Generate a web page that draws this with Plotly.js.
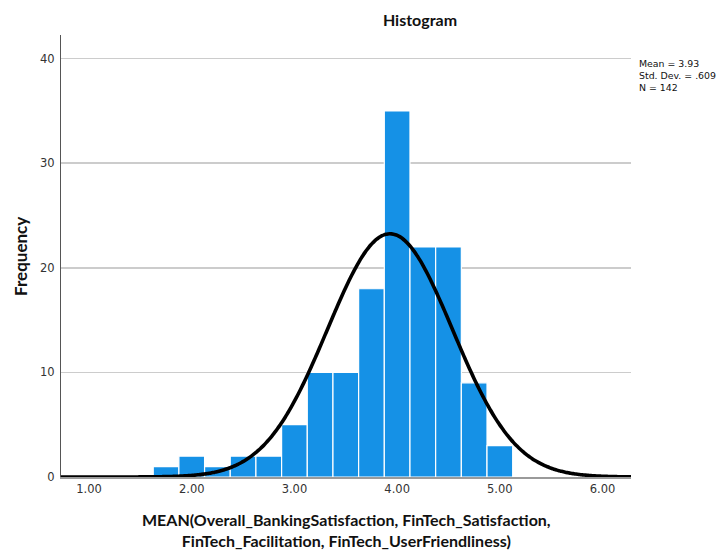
<!DOCTYPE html>
<html>
<head>
<meta charset="utf-8">
<script src="https://cdn.plot.ly/plotly-3.0.1.min.js"></script>
<style>
  html, body { margin: 0; padding: 0; background: #fff; }
  #chart { width: 722px; height: 552px; }
</style>
</head>
<body>
<div id="chart"></div>
<script>
// Bin centres (score means are multiples of 0.25) and their frequencies
const binCenters = [1.75, 2.00, 2.25, 2.50, 2.75, 3.00, 3.25, 3.50, 3.75, 4.00, 4.25, 4.50, 4.75, 5.00];
const frequencies = [1, 2, 1, 2, 2, 5, 10, 10, 18, 35, 22, 22, 9, 3];
const binWidth = 0.25;

// Descriptive statistics shown beside the plot
const statMean = 3.93;
const statSd = 0.609;
const statN = 142;

// Axis ticks
const xTickVals = [1, 2, 3, 4, 5, 6];
const xTickText = ['1.00', '2.00', '3.00', '4.00', '5.00', '6.00'];
const yTickVals = [0, 10, 20, 30, 40];

const xRange = [0.727, 6.277];
const yRange = [0, 42.26];

// Normal curve scaled to the histogram (N * bin width * density)
const curveX = [];
const curveY = [];
const steps = 300;
for (let i = 0; i <= steps; i++) {
  const x = xRange[0] + (xRange[1] - xRange[0]) * i / steps;
  const z = (x - statMean) / statSd;
  curveX.push(x);
  curveY.push(statN * binWidth * Math.exp(-0.5 * z * z) / (statSd * Math.sqrt(2 * Math.PI)));
}

const bars = {
  type: 'bar',
  x: binCenters,
  y: frequencies,
  width: binWidth,
  marker: { color: '#1591e6', line: { color: '#ffffff', width: 1.2 } },
  hoverinfo: 'x+y',
  showlegend: false
};

const curve = {
  type: 'scatter',
  mode: 'lines',
  x: curveX,
  y: curveY,
  line: { color: '#000000', width: 3.6, shape: 'spline' },
  hoverinfo: 'skip',
  showlegend: false
};

const tickFont = { family: 'DejaVu Sans, sans-serif', size: 11.5, color: '#333333' };
const titleFont = { family: 'Lato, sans-serif', size: 16, color: '#111111' };

const layout = {
  width: 722,
  height: 552,
  margin: { l: 61, r: 91, t: 35, b: 75 },
  paper_bgcolor: '#ffffff',
  plot_bgcolor: '#ffffff',
  bargap: 0,
  title: {
    text: '<b>Histogram</b>',
    font: titleFont,
    xref: 'container', yref: 'container',
    x: 420 / 722, y: 1 - 20 / 552,
    xanchor: 'center', yanchor: 'middle'
  },
  xaxis: {
    range: xRange,
    tickvals: xTickVals,
    ticktext: xTickText,
    tickfont: tickFont,
    ticks: '',
    showgrid: false,
    zeroline: false,
    showline: true,
    linecolor: '#9a9a9a',
    linewidth: 2
  },
  yaxis: {
    range: yRange,
    tickvals: yTickVals,
    tickfont: tickFont,
    ticks: '',
    ticklabelstandoff: 3,
    showgrid: true,
    gridcolor: '#cccccc',
    gridwidth: 1.5,
    zeroline: false,
    showline: true,
    linecolor: '#555555',
    linewidth: 1
  },
  annotations: [
    {
      text: '<b>Frequency</b>',
      xref: 'paper', yref: 'paper',
      x: -0.072, y: 0.5,
      xanchor: 'center', yanchor: 'middle',
      textangle: -90,
      showarrow: false,
      font: { family: 'Lato, sans-serif', size: 17, color: '#111111' }
    },
    {
      text: '<b>MEAN(Overall_BankingSatisfaction, FinTech_Satisfaction,<br>FinTech_Facilitation, FinTech_UserFriendliness)</b>',
      xref: 'paper', yref: 'paper',
      x: 0.5, y: -0.12,
      xanchor: 'center', yanchor: 'middle',
      align: 'center',
      showarrow: false,
      font: titleFont
    },
    {
      text: 'Mean = ' + statMean.toFixed(2) + '<br>Std. Dev. = ' + statSd.toFixed(3).replace(/^0/, '') + '<br>N = ' + statN,
      xref: 'paper', yref: 'paper',
      x: (637 - 61) / 570, y: (477 - 56) / 442,
      xanchor: 'left', yanchor: 'top',
      align: 'left',
      showarrow: false,
      font: { family: 'DejaVu Sans, sans-serif', size: 9.4, color: '#111111' }
    }
  ]
};

Plotly.newPlot('chart', [bars, curve], layout, { displayModeBar: false, staticPlot: true });
</script>
</body>
</html>
